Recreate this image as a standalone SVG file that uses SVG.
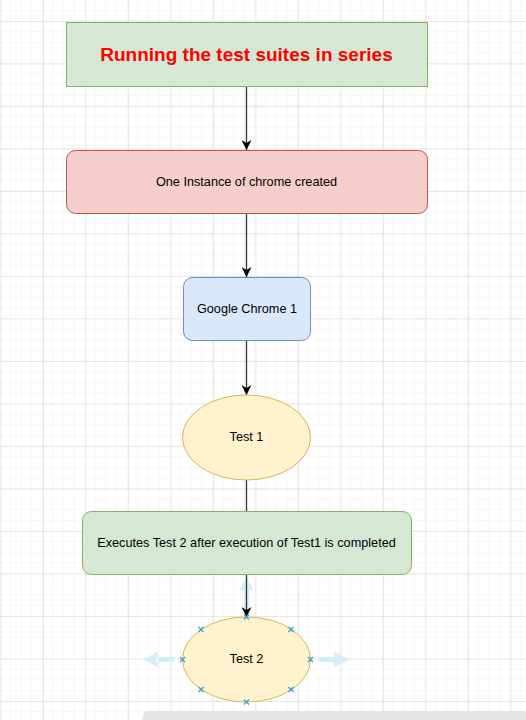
<svg xmlns="http://www.w3.org/2000/svg" width="526" height="720" viewBox="0 0 526 720">
<defs>
<pattern id="minor" x="0.5" y="0.25" width="10.625" height="10.625" patternUnits="userSpaceOnUse">
<path d="M10.625 0V10.625M0 10.625H10.625" fill="none" stroke="#efefef" stroke-width="1"/>
</pattern>
<pattern id="major" x="0.5" y="-21.5" width="42.5" height="42.5" patternUnits="userSpaceOnUse">
<path d="M0 0V42.5M0 0H42.5" fill="none" stroke="#d4d4d4" stroke-width="1"/>
</pattern>
<marker id="arr" viewBox="0 0 10 10" refX="10" refY="5" markerWidth="10" markerHeight="10" markerUnits="userSpaceOnUse" orient="auto">
<path d="M0 0L10 5L0 10L3 5Z" fill="#000"/>
</marker>
</defs>
<style>
.lbl{font-family:"Liberation Sans",Arial,sans-serif;font-size:12.7px;fill:#000;text-anchor:middle;dominant-baseline:central}
.edge{stroke:#333;stroke-width:1.3;fill:none}
.hint{fill:#d2ecfa;opacity:0.9}
.xm{stroke:#3ca0d8;stroke-width:1.3}
</style>
<rect width="526" height="720" fill="#fff"/>
<rect width="526" height="720" fill="url(#minor)"/>
<rect width="526" height="720" fill="url(#major)"/>
<g id="hints">
<path class="hint" d="M244 588H249V608H244Z M239.5 590L246.5 577L253.5 590Z"/>
<path class="hint" d="M156 657H174V662H156Z M158 651.5L143 659.5L158 667.5Z"/>
<path class="hint" d="M318 657H336V662H318Z M334 651.5L349 659.5L334 667.5Z"/>
</g>
<g id="connectors">
<line class="edge" x1="246.5" y1="86" x2="246.5" y2="150" marker-end="url(#arr)"/>
<line class="edge" x1="246.5" y1="213" x2="246.5" y2="277" marker-end="url(#arr)"/>
<line class="edge" x1="246.5" y1="341" x2="246.5" y2="395" marker-end="url(#arr)"/>
<line class="edge" x1="246.5" y1="480" x2="246.5" y2="617" marker-end="url(#arr)"/>
</g>
<g id="title">
<rect x="66.5" y="22.5" width="361" height="64" fill="#d5e8d4" stroke="#82b366"/>
<text x="246.5" y="54" class="lbl" style="font-size:19px;font-weight:bold;fill:#ff0000">Running the test suites in series</text>
</g>
<g id="instance">
<rect x="66.5" y="150.5" width="361" height="63" rx="9" fill="#f8cecc" stroke="#b85450"/>
<text x="246.5" y="182" class="lbl">One Instance of chrome created</text>
</g>
<g id="chrome1">
<rect x="183.5" y="277.5" width="127" height="63" rx="9" fill="#dae8fc" stroke="#6c8ebf"/>
<text x="247" y="309" class="lbl">Google Chrome 1</text>
</g>
<g id="test1">
<ellipse cx="246.5" cy="437.5" rx="64" ry="42.5" fill="#fff2cc" stroke="#d6b656"/>
<text x="246.5" y="437" class="lbl">Test 1</text>
</g>
<g id="executes">
<rect x="82.5" y="511.5" width="329" height="63" rx="9" fill="#d5e8d4" stroke="#82b366"/>
<text x="246.5" y="543" class="lbl">Executes Test 2 after execution of Test1 is completed</text>
</g>
<g id="test2">
<ellipse cx="246.5" cy="659.5" rx="64" ry="42.5" fill="#fff2cc" stroke="#d6b656"/>
<text x="246.5" y="659" class="lbl">Test 2</text>
</g>
<g id="points">
<path class="xm" d="M244 614.5l5 5m0-5l-5 5 M244 699.5l5 5m0-5l-5 5 M180 657l5 5m0-5l-5 5 M308 657l5 5m0-5l-5 5 M198.5 627l5 5m0-5l-5 5 M288.5 627l5 5m0-5l-5 5 M198.5 687l5 5m0-5l-5 5 M288.5 687l5 5m0-5l-5 5"/>
</g>
<rect x="143" y="711" width="400" height="16" rx="5" fill="#e4e4e4"/>
</svg>
